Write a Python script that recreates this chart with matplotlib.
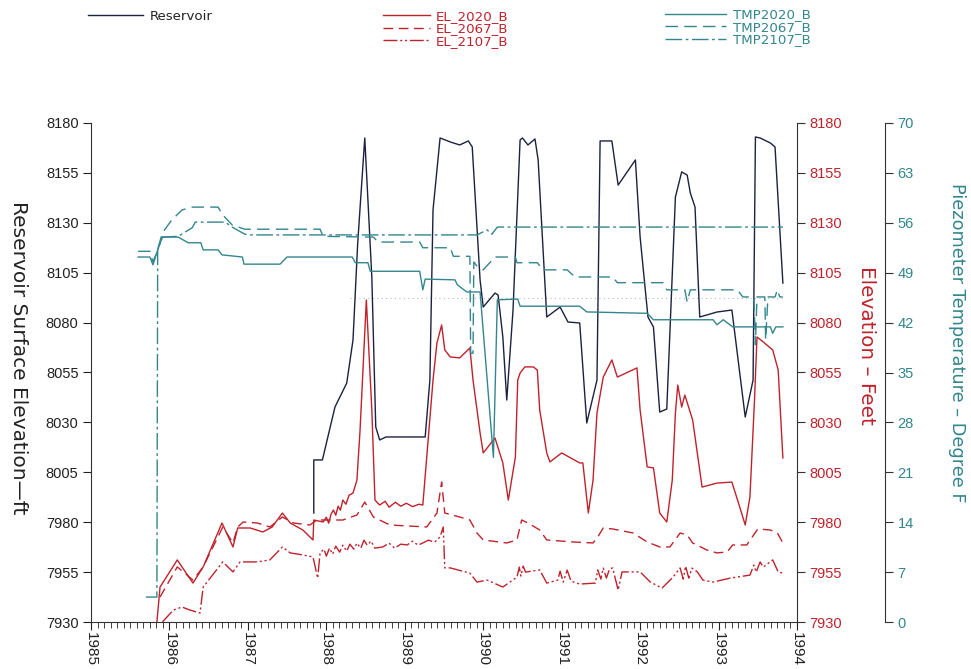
import matplotlib
matplotlib.use("Agg")
import matplotlib.pyplot as plt
from matplotlib.lines import Line2D
from matplotlib.ticker import MultipleLocator, FixedLocator

plt.rcParams['font.family'] = ['Liberation Sans', 'DejaVu Sans']

# ---------------- data ----------------
# Reservoir surface elevation (ft)
res_year = [1987.84, 1987.84, 1987.95, 1988.11, 1988.26, 1988.34, 1988.40, 1988.49, 1988.58,
            1988.63, 1988.68, 1988.76, 1989.26, 1989.32, 1989.36, 1989.45, 1989.58, 1989.70,
            1989.81, 1989.86, 1989.96, 1990.00, 1990.15, 1990.19, 1990.25, 1990.30, 1990.38,
            1990.47, 1990.50, 1990.57, 1990.66, 1990.70, 1990.81, 1990.98, 1991.08, 1991.23,
            1991.32, 1991.45, 1991.49, 1991.64, 1991.72, 1991.94, 1992.00, 1992.10, 1992.17,
            1992.25, 1992.34, 1992.45, 1992.53, 1992.60, 1992.64, 1992.70, 1992.76, 1992.98,
            1993.17, 1993.34, 1993.44, 1993.47, 1993.53, 1993.66, 1993.72, 1993.82]
res_elev = [7984.6, 8011.2, 8011.2, 8037.7, 8049.7, 8071.3, 8119.9, 8172.5, 8102.8,
            8027.7, 8021.2, 8022.7, 8022.7, 8051.2, 8136.4, 8172.5, 8170.5, 8169.0,
            8171.0, 8168.0, 8101.3, 8087.8, 8094.8, 8093.8, 8072.8, 8041.2, 8086.3,
            8171.5, 8172.5, 8169.0, 8172.0, 8161.5, 8082.8, 8087.8, 8080.3, 8079.8,
            8029.7, 8051.2, 8171.0, 8171.0, 8148.9, 8161.5, 8122.9, 8082.8, 8077.8,
            8035.2, 8036.7, 8142.9, 8155.5, 8153.9, 8144.9, 8137.9, 8082.8, 8085.3,
            8086.3, 8032.7, 8051.2, 8173.0, 8172.5, 8170.0, 8168.0, 8099.8]

# Piezometer elevations (ft)
el2020_year = [1985.84, 1985.88, 1986.10, 1986.30, 1986.43, 1986.67, 1986.81, 1986.87, 1987.03,
               1987.19, 1987.31, 1987.44, 1987.54, 1987.70, 1987.83, 1987.84, 1987.96, 1988.00,
               1988.03, 1988.06, 1988.09, 1988.12, 1988.15, 1988.18, 1988.21, 1988.25, 1988.29,
               1988.34, 1988.39, 1988.43, 1988.51, 1988.58, 1988.62, 1988.68, 1988.75, 1988.80,
               1988.88, 1988.95, 1989.02, 1989.10, 1989.18, 1989.23,
               1989.36, 1989.41, 1989.47, 1989.51, 1989.58, 1989.70, 1989.83, 1989.87, 1989.96,
               1990.00, 1990.15, 1990.25, 1990.32, 1990.41, 1990.44, 1990.47, 1990.53, 1990.64,
               1990.69, 1990.72, 1990.81, 1990.85, 1991.00, 1991.23, 1991.27, 1991.34, 1991.40,
               1991.45, 1991.53, 1991.64, 1991.71, 1991.96, 1992.00, 1992.09, 1992.17, 1992.25,
               1992.34, 1992.41, 1992.45, 1992.48, 1992.53, 1992.57, 1992.67, 1992.79, 1992.98,
               1993.17, 1993.27, 1993.34, 1993.40, 1993.46, 1993.49, 1993.57, 1993.69, 1993.76,
               1993.82]
el2020_elev = [7930.0, 7947.5, 7961.1, 7949.5, 7957.6, 7979.6, 7967.6, 7977.1, 7977.1,
               7975.1, 7977.6, 7984.6, 7979.6, 7976.1, 7971.1, 7981.1, 7980.1, 7982.5,
               7979.5, 7984.0, 7986.1, 7983.5, 7988.0, 7986.0, 7991.1, 7989.0, 7993.5,
               7994.6, 8001.1, 8026.2, 8091.3, 8036.2, 7991.1, 7988.6, 7990.5, 7987.5,
               7990.0, 7988.0, 7989.5, 7987.8, 7989.0, 7988.6,
               8051.2, 8069.8, 8078.8, 8066.3, 8062.8, 8062.3, 8067.3, 8051.2, 8024.7,
               8014.7, 8022.2, 8009.7, 7991.1, 8012.7, 8051.2, 8054.7, 8057.8, 8057.8,
               8056.2, 8036.2, 8014.7, 8010.2, 8014.7, 8009.7, 8009.7, 7984.6, 8001.1,
               8034.7, 8052.7, 8061.3, 8052.7, 8057.3, 8036.2, 8007.7, 8007.2, 7984.6,
               7980.1, 8001.1, 8034.7, 8048.7, 8037.7, 8043.7, 8031.2, 7997.6, 7999.6,
               8000.1, 7987.6, 7978.6, 7992.6, 8042.7, 8072.8, 8070.3, 8066.3, 8056.3,
               8012.2]

el2067_year = [1985.88, 1986.10, 1986.30, 1986.43, 1986.68, 1986.81, 1986.87, 1986.94, 1987.12,
               1987.28, 1987.44, 1987.58, 1987.79, 1987.88, 1988.21, 1988.39, 1988.49, 1988.60,
               1988.81, 1989.28, 1989.41, 1989.47, 1989.51, 1989.70, 1989.83, 1989.92, 1990.00,
               1990.30, 1990.43, 1990.49, 1990.57, 1990.72, 1990.81, 1991.14, 1991.40, 1991.46,
               1991.53, 1991.65, 1991.91, 1992.09, 1992.25, 1992.38, 1992.51, 1992.60, 1992.67,
               1992.85, 1992.98, 1993.11, 1993.18, 1993.36, 1993.50, 1993.66, 1993.75, 1993.82]
el2067_elev = [7942.5, 7957.6, 7951.0, 7957.6, 7977.6, 7969.6, 7977.6, 7980.1, 7979.6,
               7977.6, 7982.6, 7979.6, 7978.6, 7981.1, 7981.1, 7983.6, 7990.1, 7982.6,
               7978.6, 7977.6, 7984.6, 8000.1, 7984.6, 7982.6, 7981.1, 7974.6, 7971.1,
               7969.6, 7971.1, 7981.1, 7979.6, 7976.1, 7971.1, 7970.1, 7969.6, 7972.6,
               7977.1, 7976.6, 7974.6, 7970.1, 7967.6, 7967.6, 7974.6, 7973.6, 7969.6,
               7966.1, 7964.6, 7965.1, 7968.6, 7968.6, 7976.6, 7976.1, 7974.6, 7969.6]

el2107_year = [1985.91, 1986.05, 1986.16, 1986.26, 1986.39, 1986.43, 1986.68, 1986.81, 1986.90,
               1987.12, 1987.28, 1987.44, 1987.54, 1987.70, 1987.83, 1987.89, 1987.92, 1987.97,
               1988.00, 1988.04, 1988.08, 1988.12, 1988.17, 1988.21, 1988.26, 1988.30, 1988.35,
               1988.39, 1988.44, 1988.48, 1988.52, 1988.57, 1988.62, 1988.72, 1988.80, 1988.87,
               1988.95, 1989.03, 1989.10, 1989.17, 1989.23, 1989.30, 1989.38, 1989.45, 1989.49,
               1989.51, 1989.58, 1989.83, 1989.92, 1990.05, 1990.25, 1990.43, 1990.46, 1990.48,
               1990.51, 1990.54, 1990.72, 1990.81, 1990.95, 1990.98, 1991.02, 1991.07, 1991.12,
               1991.23, 1991.43, 1991.46, 1991.50, 1991.53, 1991.57, 1991.61, 1991.65, 1991.72,
               1991.77, 1992.00, 1992.13, 1992.28, 1992.42, 1992.51, 1992.55, 1992.58, 1992.62,
               1992.66, 1992.73, 1992.80, 1992.93, 1993.15, 1993.40, 1993.45, 1993.48, 1993.53,
               1993.57, 1993.69, 1993.76, 1993.82]
el2107_elev = [7930.0, 7936.0, 7937.5, 7936.0, 7934.5, 7947.5, 7960.1, 7955.1, 7960.1,
               7960.1, 7961.1, 7967.6, 7964.6, 7963.6, 7962.6, 7952.0, 7964.6, 7966.5,
               7963.0, 7967.0, 7964.0, 7968.0, 7965.0, 7968.5, 7965.5, 7969.0, 7966.5,
               7969.5, 7967.0, 7971.0, 7968.5, 7970.5, 7967.0, 7967.6, 7969.5, 7967.0,
               7969.0, 7968.6, 7970.5, 7968.5, 7969.6, 7971.0, 7970.0, 7972.6, 7977.6,
               7957.1, 7957.1, 7954.5, 7950.0, 7951.0, 7947.5, 7952.5, 7957.5, 7953.0,
               7958.0, 7955.0, 7956.1, 7949.5, 7951.0, 7955.5, 7950.0, 7956.0, 7950.5,
               7949.0, 7949.5, 7956.1, 7951.5, 7957.0, 7952.0, 7956.5, 7957.1, 7946.0,
               7955.1, 7955.1, 7950.0, 7947.0, 7952.5, 7957.1, 7951.5, 7958.0, 7952.0,
               7957.0, 7955.1, 7951.0, 7950.0, 7952.0, 7953.5, 7958.5, 7955.0, 7960.1,
               7957.5, 7961.1, 7955.1, 7954.5]

# Piezometer temperatures (deg F)
tmp2020_year = [1985.60, 1985.75, 1985.79, 1985.83, 1985.85, 1985.91, 1986.11, 1986.24, 1986.40,
                1986.43, 1986.62, 1986.67, 1986.93, 1986.95, 1987.41, 1987.50, 1988.33, 1988.37,
                1988.53, 1988.56, 1989.19, 1989.23, 1989.26, 1989.64, 1989.67, 1989.79, 1989.96,
                1990.13, 1990.18, 1990.44, 1990.47, 1991.23, 1991.32, 1992.09, 1992.17, 1992.93,
                1992.98, 1993.06, 1993.18, 1993.66, 1993.69, 1993.73, 1993.82]
tmp2020_temp = [51.2, 51.2, 50.1, 51.5, 52.2, 54.0, 54.0, 53.2, 53.2,
                52.2, 52.2, 51.5, 51.2, 50.2, 50.2, 51.2, 51.2, 50.4,
                50.4, 49.2, 49.2, 46.6, 48.1, 48.0, 47.3, 46.3, 46.3,
                23.1, 45.2, 45.3, 44.3, 44.3, 43.5, 43.3, 42.4, 42.4,
                41.7, 42.4, 41.4, 41.4, 40.5, 41.4, 41.4]

tmp2067_year = [1985.60, 1985.75, 1985.79, 1985.84, 1985.91, 1986.03, 1986.16, 1986.29, 1986.62,
                1986.68, 1986.80, 1986.96, 1987.92, 1987.96, 1988.60, 1988.66, 1989.19, 1989.23,
                1989.58, 1989.62, 1989.83, 1989.84, 1989.87, 1989.88, 1989.93, 1990.00, 1990.15,
                1990.41, 1990.43, 1990.69, 1990.76, 1991.07, 1991.17, 1991.65, 1991.71, 1992.29,
                1992.34, 1992.57, 1992.60, 1992.64, 1993.24, 1993.31, 1993.45, 1993.47, 1993.49,
                1993.59, 1993.60, 1993.63, 1993.72, 1993.75, 1993.78, 1993.82]
tmp2067_temp = [52.0, 52.0, 50.5, 51.9, 54.6, 56.4, 57.8, 58.2, 58.2,
                57.1, 55.7, 55.1, 55.1, 54.1, 54.0, 53.3, 53.3, 52.5,
                52.5, 51.3, 51.3, 37.7, 37.7, 50.5, 49.8, 49.4, 51.2,
                51.2, 50.4, 50.4, 49.4, 49.4, 48.4, 48.4, 47.6, 47.6,
                46.6, 46.6, 44.9, 46.6, 46.6, 45.6, 45.6, 38.9, 45.6,
                45.6, 39.6, 45.6, 45.6, 46.6, 45.6, 45.6]

tmp2107_year = [1985.70, 1985.84, 1985.85, 1985.91, 1986.11, 1986.29, 1986.33, 1986.71, 1986.80,
                1986.96, 1987.03, 1989.92, 1990.05, 1990.11, 1990.18, 1993.82]
tmp2107_temp = [3.5, 3.5, 52.2, 54.0, 54.1, 55.3, 56.1, 56.1, 55.4,
                54.4, 54.3, 54.3, 55.0, 54.4, 55.4, 55.4]

# faint reference level (ft)
ref_year = [1988.30, 1993.85]
ref_elev = [8092.3, 8092.3]

# axis tick values
year_ticks = list(range(1985, 1995))
elev_ticks = list(range(7930, 8181, 25))
temp_ticks = list(range(0, 71, 7))

# legend entries
res_labels = ['Reservoir']
el_labels = ['EL_2020_B', 'EL_2067_B', 'EL_2107_B']
tmp_labels = ['TMP2020_B', 'TMP2067_B', 'TMP2107_B']

# ---------------- styling ----------------
NAVY = '#1c2140'
RED = '#c0222b'
TEAL = '#33868d'
GREY = '#b8b8b8'
DASH = (0, (7, 4))
DASH_T = (0, (9, 4.5))
DASH_DOT2 = (0, (10, 2, 1.5, 2, 1.5, 2))
DASH_DOT = (0, (12, 2.5, 2, 2.5))
LW = 1.0

fig = plt.figure(figsize=(9.71, 6.69), dpi=100)
W, H = 971, 669
left, right, top, bottom = 91, 797, 123, 622
ax = fig.add_axes([left / W, 1 - bottom / H, (right - left) / W, (bottom - top) / H])
ax_el = ax.twinx()
ax_t = ax.twinx()

ax.plot(ref_year, ref_elev, color=GREY, lw=0.8, ls=(0, (1, 3)))
ax.plot(res_year, res_elev, color=NAVY, lw=LW)
ax_el.plot(el2020_year, el2020_elev, color=RED, lw=LW)
ax_el.plot(el2067_year, el2067_elev, color=RED, lw=LW, ls=DASH)
ax_el.plot(el2107_year, el2107_elev, color=RED, lw=LW, ls=DASH_DOT2)
ax_t.plot(tmp2020_year, tmp2020_temp, color=TEAL, lw=LW)
ax_t.plot(tmp2067_year, tmp2067_temp, color=TEAL, lw=LW, ls=DASH_T)
ax_t.plot(tmp2107_year, tmp2107_temp, color=TEAL, lw=LW, ls=DASH_DOT)

# axes limits and ticks
ax.set_xlim(1985, 1994)
for a in (ax, ax_el):
    a.set_ylim(7930, 8180)
ax_t.set_ylim(0, 70)

ax.xaxis.set_major_locator(FixedLocator(year_ticks))
ax.xaxis.set_minor_locator(MultipleLocator(1 / 12))
ax.set_xticklabels([str(y) for y in year_ticks], rotation=-90)
ax.set_yticks(elev_ticks)
ax_el.set_yticks(elev_ticks)
ax_t.set_yticks(temp_ticks)

TFS = 10.5
ax.tick_params(axis='x', which='major', direction='out', length=6, width=0.8,
               labelsize=11, pad=1, colors='#222222')
ax.tick_params(axis='x', which='minor', direction='out', length=4, width=0.6, colors='#222222')
ax.tick_params(axis='y', direction='out', length=6, width=0.8, labelsize=TFS, colors='#222222', pad=3)
ax_el.tick_params(axis='y', direction='out', length=6, width=0.8, labelsize=TFS,
                  colors='#333333', labelcolor=RED, pad=3)
ax_t.tick_params(axis='y', direction='out', length=6, width=0.8, labelsize=TFS,
                 colors='#333333', labelcolor=TEAL, pad=3)

# spines
for s in ('top', 'right'):
    ax.spines[s].set_visible(False)
for s in ('top', 'left', 'bottom'):
    ax_el.spines[s].set_visible(False)
    ax_t.spines[s].set_visible(False)
ax_t.spines['right'].set_position(('axes', 1 + 88 / (right - left)))
for a in (ax, ax_el, ax_t):
    for sp in a.spines.values():
        sp.set_linewidth(0.8)
        sp.set_color('#333333')

# axis titles
TITLE_FONT = ['DejaVu Sans']
fig.text(18 / W, 1 - 358 / H, 'Reservoir Surface Elevation\u2014ft', rotation=-90,
         ha='center', va='center', fontsize=14.5, color='#222222', family=TITLE_FONT)
fig.text(866 / W, 1 - 345 / H, 'Elevation \u2013 Feet', rotation=-90,
         ha='center', va='center', fontsize=14.4, color=RED, family=TITLE_FONT)
fig.text(957 / W, 1 - 343 / H, 'Piezometer Temperature \u2013 Degree F', rotation=-90,
         ha='center', va='center', fontsize=12.8, color=TEAL, family=TITLE_FONT)


# legend blocks drawn in figure pixel space above the plot
def legend_block(x_line0, x_line1, x_text, rows, labels, styles, color, text_color):
    for yrow, lab, ls in zip(rows, labels, styles):
        fig.add_artist(Line2D([x_line0 / W, x_line1 / W], [1 - yrow / H, 1 - yrow / H],
                              transform=fig.transFigure, color=color, lw=LW, ls=ls))
        fig.text(x_text / W, 1 - yrow / H, lab, ha='left', va='center_baseline',
                 fontsize=9.6, color=text_color, family=['DejaVu Sans'])


legend_block(88, 143, 150, [15], res_labels, ['-'], NAVY, '#222222')
legend_block(383, 430, 436, [15, 27.5, 40], el_labels, ['-', DASH, DASH_DOT2], RED, RED)
legend_block(665, 726, 733, [13.5, 26, 38.5], tmp_labels, ['-', DASH_T, DASH_DOT], TEAL, TEAL)

fig.savefig('out.png', dpi=100)
